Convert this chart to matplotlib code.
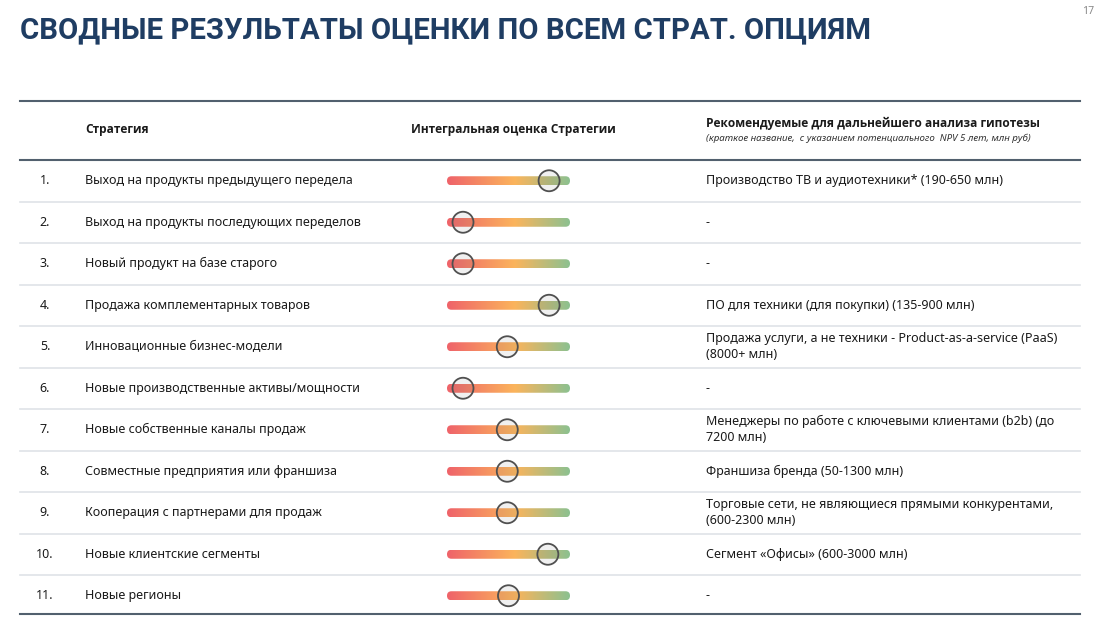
import numpy as np
import matplotlib
matplotlib.use("Agg")
import matplotlib.pyplot as plt
from matplotlib.colors import LinearSegmentedColormap
from matplotlib.patches import FancyBboxPatch, Circle

# data
title = "СВОДНЫЕ РЕЗУЛЬТАТЫ ОЦЕНКИ ПО ВСЕМ СТРАТ. ОПЦИЯМ"
page_no = "17"
col_headers = ["Стратегия", "Интегральная оценка Стратегии",
               "Рекомендуемые для дальнейшего анализа гипотезы"]
col_sub = "(краткое название,  с указанием потенциального  NPV 5 лет, млн руб)"
row_numbers = ["1.", "2.", "3.", "4.", "5.", "6.", "7.", "8.", "9.", "10.", "11."]
strategies = [
    "Выход на продукты предыдущего передела",
    "Выход на продукты последующих переделов",
    "Новый продукт на базе старого",
    "Продажа комплементарных товаров",
    "Инновационные бизнес-модели",
    "Новые производственные активы/мощности",
    "Новые собственные каналы продаж",
    "Совместные предприятия или франшиза",
    "Кооперация с партнерами для продаж",
    "Новые клиентские сегменты",
    "Новые регионы",
]
# position of marker along the scale (0 = red, 1 = green)
scores = [0.83, 0.13, 0.13, 0.83, 0.49, 0.13, 0.49, 0.49, 0.49, 0.82, 0.50]
hypotheses = [
    "Производство ТВ и аудиотехники* (190-650 млн)",
    "-",
    "-",
    "ПО для техники (для покупки) (135-900 млн)",
    "Продажа услуги, а не техники - Product-as-a-service (PaaS)\n(8000+ млн)",
    "-",
    "Менеджеры по работе с ключевыми клиентами (b2b) (до\n7200 млн)",
    "Франшиза бренда (50-1300 млн)",
    "Торговые сети, не являющиеся прямыми конкурентами,\n(600-2300 млн)",
    "Сегмент «Офисы» (600-3000 млн)",
    "-",
]

W, H = 1098, 617
fig = plt.figure(figsize=(W / 100, H / 100), dpi=100)
ax = fig.add_axes([0, 0, 1, 1])
ax.set_xlim(0, W)
ax.set_ylim(H, 0)
ax.axis("off")

navy = "#1f3d63"
dark_line = "#52606e"
light_line = "#dfe3e7"
txt = "#1a1a1a"
font = ["Noto Sans", "DejaVu Sans"]
bold_font = ["Open Sans", "DejaVu Sans"]

ax.text(20, 30, title, fontsize=21.2, fontweight="bold", color=navy,
        family=["Roboto", "DejaVu Sans"], va="center", ha="left")
ax.text(1082, 12, page_no, fontsize=7.5, color="#888888", va="center", ha="left", family=font)

x0, x1 = 20, 1080
ax.plot([x0, x1], [101, 101], color=dark_line, lw=1.5)
ax.plot([x0, x1], [160, 160], color=dark_line, lw=1.5)
ax.plot([x0, x1], [614, 614], color=dark_line, lw=1.5)

ax.text(85, 130, col_headers[0], fontsize=8.6, fontweight="bold", color=txt, va="center", family=bold_font)
ax.text(513, 130, col_headers[1], fontsize=8.6, fontweight="bold", color=txt, va="center", ha="center", family=bold_font)
ax.text(706, 123, col_headers[2], fontsize=8.6, fontweight="bold", color=txt, va="center", family=bold_font)
ax.text(706, 138, col_sub, fontsize=7, style="italic", color="#333333", va="center", family=font)

cmap = LinearSegmentedColormap.from_list(
    "score", [(0, "#ef636a"), (0.55, "#fbb45c"), (1, "#8cc190")])
grad = np.linspace(0, 1, 256).reshape(1, -1)

bar_l, bar_r, bar_h = 447, 570, 9
row_top, row_h = 160, 41.5

for i, (num, strat, sc, hyp) in enumerate(zip(row_numbers, strategies, scores, hypotheses)):
    yc = row_top + row_h * (i + 0.5)
    if i > 0:
        ax.plot([x0, x1], [row_top + row_h * i] * 2, color=light_line, lw=1.2)
    ax.text(45, yc, num, fontsize=9, color=txt, va="center", ha="center", family=font)
    ax.text(85, yc, strat, fontsize=9, color=txt, va="center", ha="left", family=font)
    ax.text(706, yc, hyp, fontsize=9, color=txt, va="center", ha="left",
            linespacing=1.3, family=font)

    patch = FancyBboxPatch((bar_l, yc - bar_h / 2), bar_r - bar_l, bar_h,
                           boxstyle="round,pad=0,rounding_size=4.5",
                           facecolor="none", edgecolor="none")
    ax.add_patch(patch)
    im = ax.imshow(grad, cmap=cmap, aspect="auto",
                   extent=(bar_l, bar_r, yc + bar_h / 2, yc - bar_h / 2),
                   interpolation="bilinear")
    im.set_clip_path(patch)

    cx = bar_l + sc * (bar_r - bar_l)
    ax.add_patch(Circle((cx, yc), 10.5, facecolor=(0.45, 0.45, 0.45, 0.10),
                        edgecolor="#505050", lw=1.3, zorder=5))

ax.set_xlim(0, W)
ax.set_ylim(H, 0)
fig.savefig("out.png", dpi=100, facecolor="white")
